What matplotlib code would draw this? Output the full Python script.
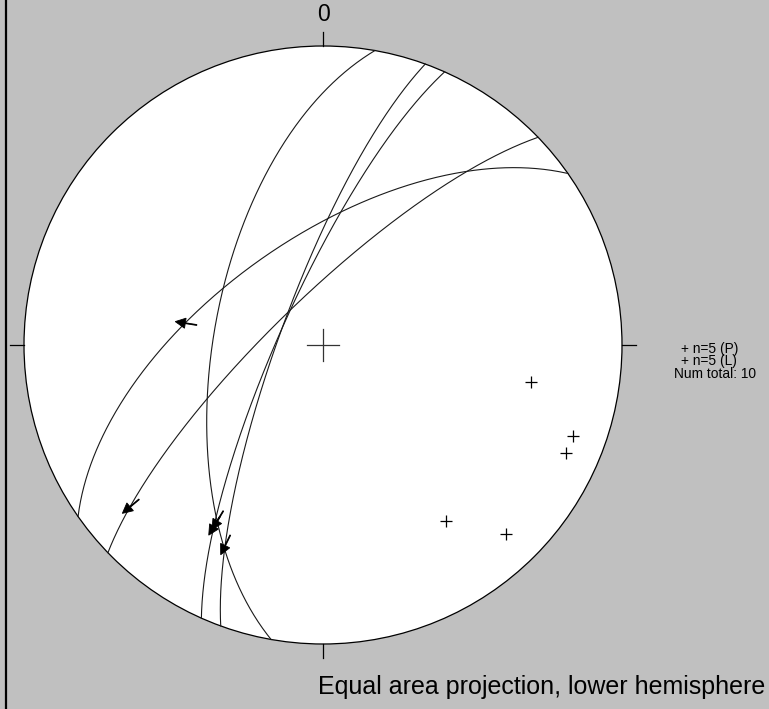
import numpy as np
import matplotlib
matplotlib.use('Agg')
import matplotlib.pyplot as plt
from matplotlib.patches import Circle
from matplotlib.lines import Line2D

plt.rcParams['font.family'] = ['Liberation Sans', 'DejaVu Sans']

# fault planes: dip direction / dip (degrees)
plane_dipdir = [280, 290, 294, 325, 316]
plane_dip = [60, 78, 78, 61, 77]

# slip lineations: host plane index and trend (plunge follows from the plane)
lin_plane = [3, 4, 0, 2, 1]
lin_trend = [279, 230, 211, 211, 206]

legend_lines = ['+ n=5 (P)', '+ n=5 (L)', 'Num total: 10']
title = 'Equal area projection, lower hemisphere'


def project(trend, plunge):
    # Schmidt (equal area) net, lower hemisphere, unit primitive
    r = np.sqrt(2) * np.sin(np.radians(90 - plunge) / 2)
    t = np.radians(trend)
    return r * np.sin(t), r * np.cos(t)


def great_circle(dipdir, dip, n=400):
    st = np.radians(dipdir - 90)
    dd = np.radians(dipdir)
    d = np.radians(dip)
    s = np.array([np.sin(st), np.cos(st), 0.0])
    dv = np.array([np.sin(dd) * np.cos(d), np.cos(dd) * np.cos(d), np.sin(d)])
    t = np.linspace(0, np.pi, n)
    v = np.outer(np.cos(t), s) + np.outer(np.sin(t), dv)
    plunge = np.degrees(np.arcsin(np.clip(v[:, 2], -1, 1)))
    trend = np.degrees(np.arctan2(v[:, 0], v[:, 1]))
    return project(trend, plunge)


fig = plt.figure(figsize=(7.69, 7.09), dpi=100, facecolor='#c0c0c0')
ax = fig.add_axes([0, 0, 1, 1])
ax.set_facecolor('#c0c0c0')
ax.set_xlim(-323 / 299, 446 / 299)
ax.set_ylim(-364 / 299, 345 / 299)
ax.axis('off')

ax.add_patch(Circle((0, 0), 1, fc='white', ec='black', lw=0.9, zorder=1))

# N/E/S/W ticks and centre cross
tk = 0.047
for dx, dy in [(0, 1), (1, 0), (0, -1), (-1, 0)]:
    ax.plot([dx, dx * (1 + tk)], [dy, dy * (1 + tk)], color='black', lw=0.9)
ax.plot([-0.052, 0.052], [0, 0], color='#333333', lw=0.9)
ax.plot([0, 0], [-0.052, 0.052], color='#333333', lw=0.9)
ax.text(0, 1.105, '0', ha='center', va='center', fontsize=16.5)

# great circles
for dd, dp in zip(plane_dipdir, plane_dip):
    x, y = great_circle(dd, dp)
    ax.plot(x, y, color='#1a1a1a', lw=0.8, zorder=2)

# poles to planes
for dd, dp in zip(plane_dipdir, plane_dip):
    px, py = project(dd + 180, 90 - dp)
    ax.plot(px, py, marker='+', ms=9, mew=0.9, color='black', zorder=3)

# slip arrows, pointing radially outward
for pi, tr in zip(lin_plane, lin_trend):
    dd, dp = plane_dipdir[pi], plane_dip[pi]
    pl = np.degrees(np.arctan(np.tan(np.radians(dp)) * np.cos(np.radians(dd - tr))))
    lx, ly = project(tr, pl)
    ux, uy = np.sin(np.radians(tr)), np.cos(np.radians(tr))
    a0 = 0.04
    L = 0.073
    ax.arrow(lx - ux * a0, ly - uy * a0, ux * L, uy * L, width=0.003,
             head_width=0.034, head_length=0.034, length_includes_head=True,
             fc='black', ec='black', lw=0.6, zorder=4)

# legend block; the total line sits a little further left
leg_x = [1.197, 1.197, 1.174]
for i, s in enumerate(legend_lines):
    ax.text(leg_x[i], -0.012 - 0.042 * i, s, ha='left', va='center', fontsize=9.9)

ax.text(-0.016, -1.143, title, ha='left', va='center', fontsize=18)

fig.add_artist(Line2D([6 / 769, 6 / 769], [0, 1], transform=fig.transFigure,
                      color='black', lw=1.6))

fig.savefig('out.png', dpi=100, facecolor=fig.get_facecolor())
